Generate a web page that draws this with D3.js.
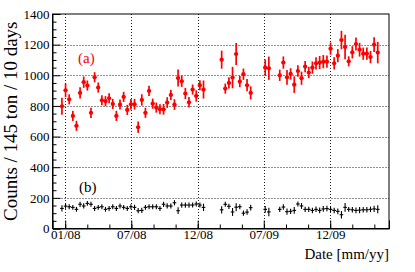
<!DOCTYPE html>
<html>
<head>
<meta charset="utf-8">
<script src="https://cdn.jsdelivr.net/npm/d3@7/dist/d3.min.js"></script>
<style>
  body { margin: 0; background: #fff; }
  svg { display: block; }
  text { font-family: "Liberation Serif", "DejaVu Serif", serif; }
</style>
</head>
<body>
<div id="vis"></div>
<script>
// 10-day bins, bin 0 is centred on 23 Dec 2007
var binOrigin = Date.UTC(2007, 11, 23);
var binDays = 10;

// (a) red series
var binsA = [0,1,2,3,4,5,6,7,8,9,10,11,12,13,14,15,16,17,18,19,20,21,22,23,24,25,26,27,28,29,30,31,32,33,34,35,36,37,38,39,
             44,45,46,47,48,49,50,51,52,
             56,57,60,61,62,63,64,65,66,67,68,69,70,71,72,73,74,75,76,77,78,79,80,81,82,83,84,85,86,87];
var countsA = [798,902,843,735,670,885,955,933,755,987,920,837,831,850,813,735,809,859,774,811,811,661,839,755,898,815,789,778,778,822,872,809,982,961,881,824,907,865,935,907,
               1102,913,950,985,1139,959,1007,935,885,
               1050,1046,1000,1083,987,1009,939,1028,981,1057,1018,1050,1078,1083,1089,1089,1174,1078,1128,1230,1184,1091,1150,1204,1167,1141,1141,1119,1200,1148];
var errorsA = [55,45,33,33,33,37,37,33,33,33,33,33,33,33,33,33,33,33,33,35,35,37,37,33,33,33,33,33,35,35,33,35,55,37,37,35,33,37,33,59,
               59,33,37,70,72,37,37,40,43,
               54,76,37,40,48,37,54,37,43,37,37,40,40,43,43,40,40,40,43,60,80,33,40,43,45,40,40,40,48,70];

// (b) black series, same bins
var countsB = [131,146,142,138,125,158,147,164,158,131,138,142,125,131,142,131,147,138,131,142,138,116,118,138,142,142,142,131,158,147,147,168,116,153,153,153,153,160,153,138,
               122,158,145,108,139,142,100,107,136,
               125,108,125,140,110,112,118,160,147,125,125,118,125,118,128,130,125,118,112,90,138,125,122,118,120,122,122,125,128,125];
var errorsB = [20,17,16,16,16,17,17,16,16,16,16,16,16,16,16,16,16,16,16,17,17,17,17,16,16,16,16,16,17,17,16,17,22,17,17,17,16,17,16,24,
               24,16,17,26,26,17,17,18,19,
               22,28,17,18,20,17,22,17,19,17,17,18,18,19,19,18,18,18,19,24,28,16,18,19,20,18,18,18,20,26];

// axis
var xDomain = ["2007-11-27", "2010-06-11"];
var xMajorTicks = ["2008-01-01", "2008-07-01", "2008-12-31", "2009-07-01", "2009-12-31"];
var yDomain = [0, 1400];
var yMajorStep = 200;
var yMinorStep = 50;

var W = 415, H = 272;
var plotL = 52.5, plotR = 389, plotT = 14, plotB = 228.5;

function day(s) { return new Date(s + "T00:00:00Z"); }
function binDate(k) { return new Date(binOrigin + k * binDays * 86400000); }

var x = d3.scaleUtc().domain(xDomain.map(day)).range([plotL, plotR]);
var y = d3.scaleLinear().domain(yDomain).range([plotB, plotT]);

var svg = d3.select("#vis").append("svg")
    .attr("width", W)
    .attr("height", H);

var majors = xMajorTicks.map(day);
var step = (majors[majors.length - 1] - majors[0]) / (majors.length - 1);
var xMinor = [];
for (var t = majors[0].getTime() - step; t < x.domain()[1].getTime(); t += step / 3) {
    var d = new Date(t);
    if (d >= x.domain()[0] && d <= x.domain()[1]) xMinor.push(d);
}

var yMajor = d3.range(yDomain[0], yDomain[1] + 1, yMajorStep);
var yMinor = d3.range(yDomain[0], yDomain[1] + 1, yMinorStep).filter(function(v) { return v % yMajorStep !== 0; });

// grid
var grid = svg.append("g")
    .attr("stroke", "#222")
    .attr("stroke-width", 1)
    .attr("stroke-dasharray", "1,2");
grid.selectAll("line.gx").data(majors).enter().append("line")
    .attr("x1", function(d) { return Math.round(x(d)) + 0.5; })
    .attr("x2", function(d) { return Math.round(x(d)) + 0.5; })
    .attr("y1", plotT).attr("y2", plotB);
grid.selectAll("line.gy").data(yMajor.slice(1, -1)).enter().append("line")
    .attr("x1", plotL).attr("x2", plotR)
    .attr("y1", function(d) { return Math.round(y(d)) + 0.5; })
    .attr("y2", function(d) { return Math.round(y(d)) + 0.5; });

// axes with inward ticks
var xAxis = svg.append("g")
    .attr("transform", "translate(0," + plotB + ")")
    .call(d3.axisBottom(x).tickValues(majors).tickSize(-8).tickPadding(1)
        .tickFormat(d3.utcFormat("%m/%y")));
svg.append("g")
    .attr("transform", "translate(0," + plotB + ")")
    .call(d3.axisBottom(x).tickValues(xMinor).tickSize(-4).tickFormat(""))
    .select(".domain").remove();

var yAxis = svg.append("g")
    .attr("transform", "translate(" + plotL + ",0)")
    .call(d3.axisLeft(y).tickValues(yMajor).tickSize(-8).tickPadding(3)
        .tickFormat(d3.format("d")));
svg.append("g")
    .attr("transform", "translate(" + plotL + ",0)")
    .call(d3.axisLeft(y).tickValues(yMinor).tickSize(-4).tickFormat(""))
    .select(".domain").remove();

svg.selectAll(".tick text")
    .attr("font-family", "Liberation Serif")
    .attr("font-size", 13)
    .attr("fill", "#000");
svg.selectAll(".domain").attr("stroke", "#000");

// frame
svg.append("rect")
    .attr("x", plotL).attr("y", plotT)
    .attr("width", plotR - plotL).attr("height", plotB - plotT)
    .attr("fill", "none").attr("stroke", "#000").attr("stroke-width", 1);

// series
function drawSeries(bins, counts, errors, color, markerR, barW) {
    var pts = bins.map(function(k, i) { return { t: binDate(k), v: counts[i], e: errors[i] }; });
    var g = svg.append("g").attr("stroke", color).attr("fill", color);
    g.selectAll("line.v").data(pts).enter().append("line")
        .attr("x1", function(d) { return x(d.t); })
        .attr("x2", function(d) { return x(d.t); })
        .attr("y1", function(d) { return y(d.v - d.e); })
        .attr("y2", function(d) { return y(d.v + d.e); })
        .attr("stroke-width", barW);
    g.selectAll("line.h").data(pts).enter().append("line")
        .attr("x1", function(d) { return x(new Date(d.t.getTime() - binDays / 2 * 86400000)); })
        .attr("x2", function(d) { return x(new Date(d.t.getTime() + binDays / 2 * 86400000)); })
        .attr("y1", function(d) { return y(d.v); })
        .attr("y2", function(d) { return y(d.v); })
        .attr("stroke-width", barW);
    if (markerR > 0) {
        g.selectAll("circle").data(pts).enter().append("circle")
            .attr("cx", function(d) { return x(d.t); })
            .attr("cy", function(d) { return y(d.v); })
            .attr("r", markerR)
            .attr("stroke", "none");
    }
}

drawSeries(binsA, countsB, errorsB, "#000", 0, 1.1);
drawSeries(binsA, countsA, errorsA, "#ff0000", 2.1, 1.7);

// labels
svg.append("text").attr("x", 78).attr("y", 63)
    .attr("font-size", 15).attr("fill", "#ff0000").text("(a)");
svg.append("text").attr("x", 79).attr("y", 192)
    .attr("font-size", 15).attr("fill", "#000").text("(b)");

svg.append("text")
    .attr("x", plotR).attr("y", 259)
    .attr("text-anchor", "end")
    .attr("font-size", 15)
    .text("Date [mm/yy]");

svg.append("text")
    .attr("transform", "translate(17," + ((plotT + plotB) / 2) + ") rotate(-90)")
    .attr("text-anchor", "middle")
    .attr("font-size", 19)
    .text("Counts / 145 ton / 10 days");
</script>
</body>
</html>
